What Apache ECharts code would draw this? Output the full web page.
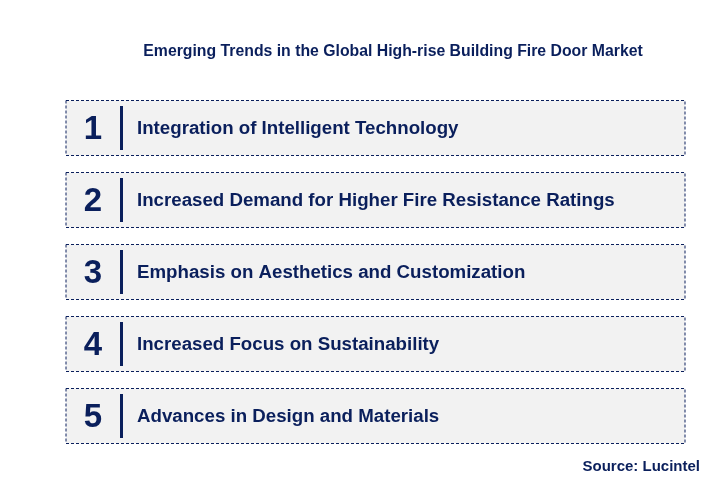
<!DOCTYPE html>
<html>
<head>
<meta charset="utf-8">
<script src="https://cdn.jsdelivr.net/npm/echarts@6/dist/echarts.min.js"></script>
<style>html,body{margin:0;padding:0;background:#fff}#main{width:712px;height:481px}</style>
</head>
<body>
<div id="main"></div>
<script>
var ranks = ['1', '2', '3', '4', '5'];
var trends = [
  'Integration of Intelligent Technology',
  'Increased Demand for Higher Fire Resistance Ratings',
  'Emphasis on Aesthetics and Customization',
  'Increased Focus on Sustainability',
  'Advances in Design and Materials'
];

var navy = '#0a1f5c';
var chart = echarts.init(document.getElementById('main'));

function renderRow(params, api) {
  var i = api.value(0);
  var left = api.coord([0, i]);
  var right = api.coord([1, i]);
  var h = 55;
  var y = left[1];
  return {
    type: 'group',
    children: [
      { type: 'rect', shape: { x: left[0], y: y - h / 2, width: right[0] - left[0], height: h },
        style: { fill: '#f2f2f2', stroke: navy, lineWidth: 1, lineDash: [3, 2] } },
      { type: 'text', x: left[0] + 27, y: y + 2,
        style: { text: ranks[i], fill: navy, font: 'bold 33px Arial', align: 'center', verticalAlign: 'middle' } },
      { type: 'rect', shape: { x: left[0] + 54, y: y - 22, width: 3, height: 44 }, style: { fill: navy } },
      { type: 'text', x: left[0] + 71, y: y + 1,
        style: { text: trends[i], fill: navy, font: 'bold 18.7px Arial', verticalAlign: 'middle' } }
    ]
  };
}

chart.setOption({
  animation: false,
  title: {
    text: 'Emerging Trends in the Global High-rise Building Fire Door Market',
    left: 388, top: 39, textAlign: 'center',
    textStyle: { color: navy, fontSize: 15.8, fontWeight: 'bold', fontFamily: 'Arial' }
  },
  graphic: [{
    type: 'text', right: 12, top: 459,
    style: { text: 'Source: Lucintel', fill: navy, font: 'bold 15px Arial' }
  }],
  grid: { left: 66, right: 27, top: 92, bottom: 29 },
  xAxis: { type: 'value', min: 0, max: 1, show: false },
  yAxis: { type: 'category', data: ranks, inverse: true, show: false },
  series: [{
    type: 'custom',
    renderItem: renderRow,
    data: ranks.map(function (r, i) { return [i]; })
  }]
});
</script>
</body>
</html>
